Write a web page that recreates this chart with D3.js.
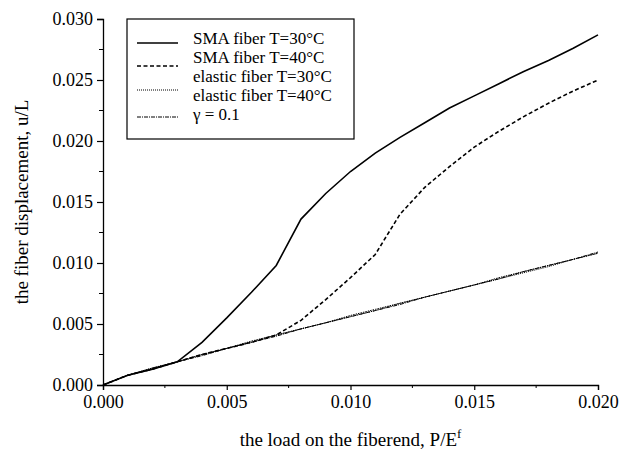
<!DOCTYPE html>
<html>
<head>
<meta charset="utf-8">
<script src="https://cdn.jsdelivr.net/npm/d3@7"></script>
<style>
  body { margin: 0; background: #fff; }
  text { font-family: "Liberation Serif", "Times New Roman", serif; fill: #000; }
</style>
</head>
<body>
<script>
// load steps P/E^f
var loads = [0, 0.001, 0.002, 0.003, 0.004, 0.005, 0.006, 0.007, 0.008, 0.009, 0.010,
             0.011, 0.012, 0.013, 0.014, 0.015, 0.016, 0.017, 0.018, 0.019, 0.020];

// displacement u/L
var sma30 = [0, 0.0008, 0.0013, 0.0019, 0.0035, 0.0055, 0.0076, 0.0098, 0.0136, 0.0157, 0.0175,
             0.0190, 0.0203, 0.0215, 0.0227, 0.0237, 0.0247, 0.0257, 0.0266, 0.0276, 0.0287];
var sma40 = [0, 0.0008, 0.0013, 0.0019, 0.0025, 0.0030, 0.0035, 0.0041, 0.0053, 0.0070, 0.0088,
             0.0107, 0.0140, 0.0162, 0.0179, 0.0195, 0.0208, 0.0220, 0.0231, 0.0241, 0.0250];
var elastic30 = [0, 0.0008, 0.0014, 0.0019, 0.0025, 0.0030, 0.0035, 0.0041, 0.0046, 0.0051, 0.0056,
                 0.0061, 0.0067, 0.0072, 0.0077, 0.0082, 0.0087, 0.0092, 0.0097, 0.0103, 0.0108];
var elastic40 = [0, 0.0008, 0.0014, 0.0019, 0.0025, 0.0030, 0.0036, 0.0041, 0.0046, 0.0051, 0.0057,
                 0.0062, 0.0067, 0.0072, 0.0077, 0.0082, 0.0088, 0.0093, 0.0098, 0.0103, 0.0108];
var gamma01 = [0, 0.0008, 0.0013, 0.0019, 0.0024, 0.0030, 0.0035, 0.0040, 0.0046, 0.0051, 0.0056,
               0.0061, 0.0066, 0.0072, 0.0077, 0.0082, 0.0087, 0.0093, 0.0098, 0.0103, 0.0109];

var seriesNames = ["SMA fiber T=30\u00B0C", "SMA fiber T=40\u00B0C", "elastic fiber T=30\u00B0C",
                   "elastic fiber T=40\u00B0C", "\u03B3 = 0.1"];
var xTicks = [0, 0.005, 0.010, 0.015, 0.020];
var yTicks = [0, 0.005, 0.010, 0.015, 0.020, 0.025, 0.030];

//Define Margin
var margin = { left: 103, right: 39, top: 19, bottom: 71 },
    width = 637 - margin.left - margin.right,
    height = 456 - margin.top - margin.bottom;

var svg = d3.select("body")
    .append("svg")
    .attr("width", 637)
    .attr("height", 456);

var g = svg.append("g")
    .attr("transform", "translate(" + margin.left + "," + margin.top + ")");

var x = d3.scaleLinear().domain([0, 0.020]).range([0, width]);
var y = d3.scaleLinear().domain([0, 0.030]).range([height, 0]);

//=================================================
// axes
//=================================================
var minorX = d3.range(0.0025, 0.020, 0.005);
var minorY = d3.range(0.0025, 0.030, 0.005);

var xAxis = g.append("g")
    .attr("transform", "translate(0," + height + ")")
    .call(d3.axisBottom(x).tickValues(xTicks).tickSize(5).tickPadding(5)
        .tickFormat(d3.format(".3f")));
xAxis.append("g").selectAll("line")
    .data(minorX).enter().append("line")
    .attr("x1", function (d) { return x(d); })
    .attr("x2", function (d) { return x(d); })
    .attr("y1", 0).attr("y2", 3)
    .attr("stroke", "#000");

var yAxis = g.append("g")
    .call(d3.axisLeft(y).tickValues(yTicks).tickSize(6).tickPadding(4)
        .tickFormat(d3.format(".3f")));
yAxis.append("g").selectAll("line")
    .data(minorY).enter().append("line")
    .attr("y1", function (d) { return y(d); })
    .attr("y2", function (d) { return y(d); })
    .attr("x1", 0).attr("x2", -4)
    .attr("stroke", "#000");

g.selectAll(".domain").attr("stroke-width", 1.3);
g.selectAll(".tick line").attr("stroke-width", 1.2);
g.selectAll(".tick text")
    .attr("font-family", "Liberation Serif")
    .attr("font-size", 18);

//axis titles
var xTitle = svg.append("text")
    .attr("x", margin.left + width / 2)
    .attr("y", 446)
    .attr("text-anchor", "middle")
    .attr("font-size", 19)
    .text("the load on the fiberend, P/E");
xTitle.append("tspan")
    .attr("dy", -8)
    .attr("font-size", 13)
    .text("f");

svg.append("text")
    .attr("transform", "translate(28," + (margin.top + height / 2) + ") rotate(-90)")
    .attr("text-anchor", "middle")
    .attr("font-size", 19)
    .text("the fiber displacement, u/L");

//=================================================
// lines
//=================================================
var styles = [
    { data: sma30, dash: null, w: 1.6 },
    { data: sma40, dash: "4,2.5", w: 1.6 },
    { data: elastic30, dash: "1,1", w: 1 },
    { data: elastic40, dash: "1.5,1", w: 1 },
    { data: gamma01, dash: "4,1,1,1", w: 1 }
];

var line = d3.line()
    .x(function (d, i) { return x(loads[i]); })
    .y(function (d) { return y(d); });

g.selectAll(".series")
    .data(styles)
    .enter().append("path")
    .attr("class", "series")
    .attr("d", function (d) { return line(d.data); })
    .attr("fill", "none")
    .attr("stroke", "#000")
    .attr("stroke-width", function (d) { return d.w; })
    .attr("stroke-dasharray", function (d) { return d.dash; });

//=================================================
// legend
//=================================================
var legend = svg.append("g");
legend.append("rect")
    .attr("x", 127).attr("y", 19)
    .attr("width", 227).attr("height", 120)
    .attr("fill", "#fff")
    .attr("stroke", "#000")
    .attr("stroke-width", 1.2);

var sampleY = [43, 66, 90, null, 117];
legend.selectAll(".sample")
    .data(styles.filter(function (d, i) { return sampleY[i] != null; }))
    .enter().append("line")
    .attr("x1", 137).attr("x2", 178)
    .attr("y1", function (d) { return sampleY[styles.indexOf(d)]; })
    .attr("y2", function (d) { return sampleY[styles.indexOf(d)]; })
    .attr("stroke", "#000")
    .attr("stroke-width", function (d) { return d.w; })
    .attr("stroke-dasharray", function (d) { return d.dash; });

var textY = [44, 63, 82, 101, 120];
legend.selectAll(".label")
    .data(seriesNames)
    .enter().append("text")
    .attr("x", 193)
    .attr("y", function (d, i) { return textY[i]; })
    .attr("font-size", 17)
    .text(function (d) { return d; });
</script>
</body>
</html>
